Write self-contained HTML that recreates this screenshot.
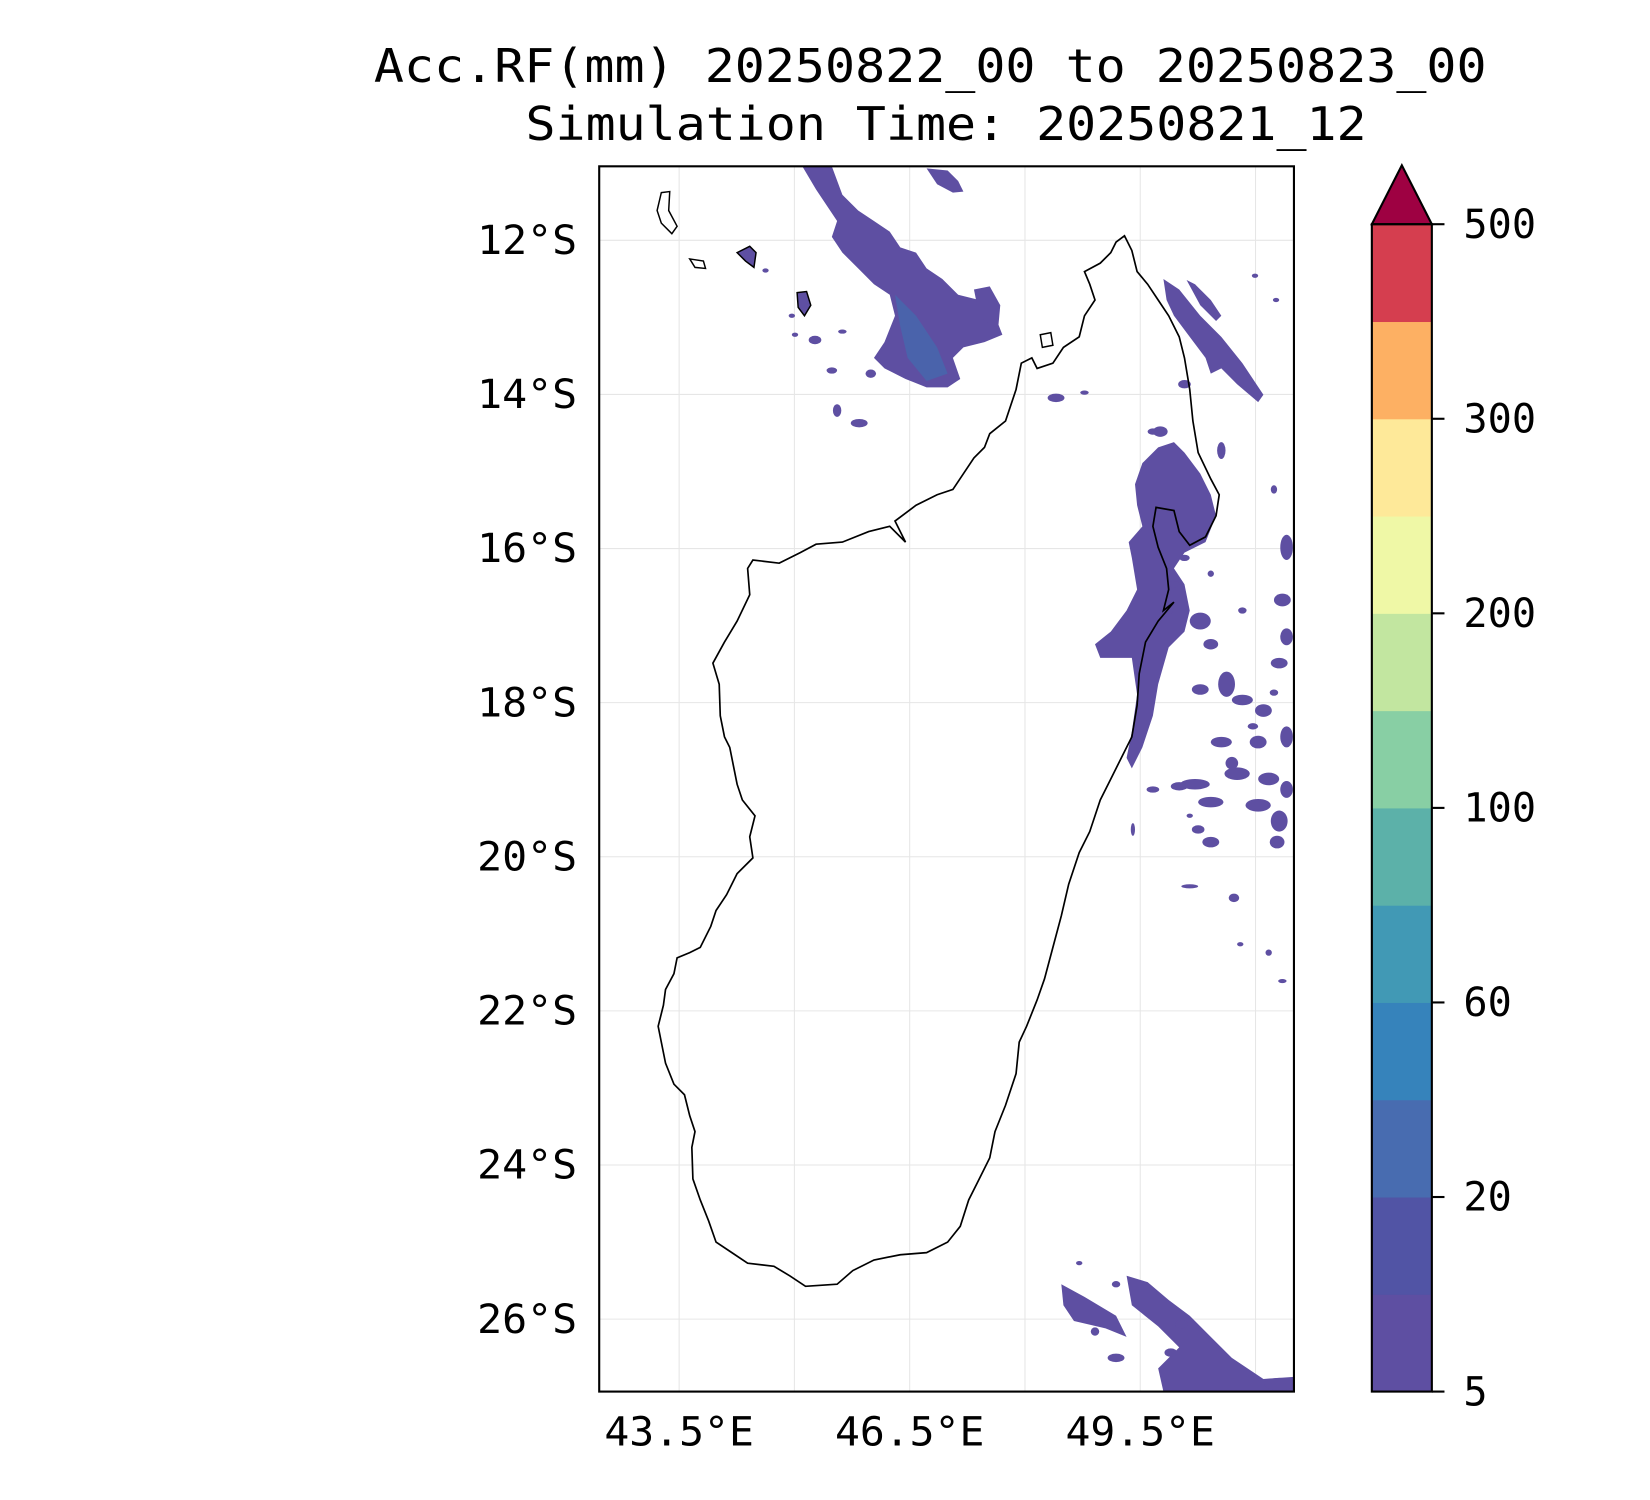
<!DOCTYPE html>
<html><head><meta charset="utf-8"><style>
html,body{margin:0;padding:0;background:#fff;}
svg{display:block;font-family:"DejaVu Sans Mono","Liberation Mono",monospace;}
</style></head><body>
<svg id="fig" width="1650" height="1500" viewBox="0 0 1567 1425" xmlns="http://www.w3.org/2000/svg">
<text x="355" y="78" font-size="44" textLength="1057" lengthAdjust="spacingAndGlyphs">Acc.RF(mm) 20250822_00 to 20250823_00</text>
<text x="499" y="133" font-size="44" textLength="799" lengthAdjust="spacingAndGlyphs">Simulation Time: 20250821_12</text>
<defs><clipPath id="clip"><rect x="569" y="158" width="660" height="1164"/></clipPath></defs>
<g id="grid"></g>
<g clip-path="url(#clip)" fill="#5e4fa2">
<path d="M762,158 L790,158 800,185 815,200 830,210 845,220 855,235 870,240 880,255 895,265 910,280 930,285 945,300 952,318 935,325 915,330 905,340 912,360 900,368 880,368 860,360 840,350 830,340 840,325 850,300 845,280 830,270 815,255 800,240 790,225 795,210 785,195 775,180Z"/>
<path fill="#4a63ab" d="M850,280 L870,300 890,330 900,355 880,362 862,340 855,310Z"/>
<path d="M880,160 L900,162 910,172 915,182 905,183 890,175Z"/>
<path d="M925,275 L940,272 950,290 948,312 935,305 928,290Z"/>
<path d="M1105,265 L1120,275 1140,300 1160,320 1180,345 1200,375 1195,382 1175,365 1160,350 1150,355 1145,340 1130,320 1115,300 1108,285Z"/>
<path d="M1127,266 L1135,270 1150,285 1160,300 1155,305 1140,290Z"/>
<path d="M1085,440 L1100,425 1115,420 1125,430 1140,450 1150,470 1155,490 1145,515 1125,525 1115,540 1125,555 1130,580 1125,600 1110,615 1100,650 1095,680 1085,710 1075,730 1070,720 1075,695 1080,660 1075,625 1060,625 1045,625 1040,612 1055,600 1070,580 1080,560 1075,530 1072,515 1085,500 1080,480 1078,460Z"/>
<path d="M1008,1220 L1030,1232 1060,1250 1070,1270 1050,1262 1020,1255 1010,1240Z"/>
<path d="M1070,1212 L1090,1218 1110,1235 1130,1250 1150,1270 1170,1290 1200,1310 1229,1308 1229,1322 1105,1322 1100,1300 1120,1280 1100,1260 1075,1240Z"/>
<g id="dots"></g>
</g>
<path fill="none" stroke="#000" stroke-width="1.6" d="M1068,224 L1075,238 1080,258 1090,270 1100,285 1110,300 1120,320 1125,340 1130,370 1133,400 1138,430 1150,455 1158,470 1155,490 1145,510 1130,518 1120,505 1115,485 1098,482 1095,500 1100,520 1108,540 1110,560 1105,580 1115,572 1100,590 1088,610 1082,640 1080,670 1075,700 1065,720 1055,740 1045,760 1035,790 1025,810 1015,840 1008,870 1000,900 992,930 985,950 975,975 968,990 965,1020 955,1050 945,1075 940,1100 930,1120 920,1140 912,1165 900,1180 880,1190 855,1192 830,1197 810,1207 795,1220 765,1222 750,1212 735,1203 710,1200 695,1190 680,1180 673,1160 665,1140 658,1120 657,1090 660,1075 655,1060 650,1040 640,1030 632,1010 628,990 625,975 630,955 632,940 640,925 643,910 655,905 665,900 675,880 680,865 690,850 700,830 715,815 712,795 717,775 705,760 700,745 697,730 693,710 688,700 684,680 683,650 677,630 688,610 700,590 712,565 710,540 715,532 740,535 760,525 775,517 800,515 825,505 845,500 860,515 850,495 870,480 890,470 905,465 915,450 925,435 935,425 940,412 955,400 960,385 965,370 970,345 980,340 985,350 1000,345 1010,330 1025,320 1030,300 1040,285 1035,270 1030,258 1045,250 1055,240 1060,230Z"/>
<g fill="none" stroke="#000" stroke-width="1.4">
<path d="M628,183 L636,182 635,200 643,215 638,222 628,212 624,200Z"/>
<path d="M655,246 L668,248 670,255 660,254Z"/>
<path fill="#5e4fa2" d="M700,240 L712,234 718,240 716,254 708,248Z"/>
<path fill="#5e4fa2" d="M757,278 L766,277 770,290 764,300 758,292Z"/>
<path d="M988,318 L998,316 1000,328 990,330Z"/>
</g>
<rect x="569" y="158" width="660" height="1164" fill="none" stroke="#000" stroke-width="2"/>
<g id="axes"></g>
<g id="cbar"></g>
<script>
const levels=[5,10,20,40,60,80,100,150,200,250,300,400,500];
const colors=["#5e4fa2","#5154a5","#486cb0","#3683bb","#4199b5","#5cb1a9","#88cfa4","#c2e6a0","#eff8a6","#fee999","#fdb063","#d53e4f"];
const cbTicks=[5,20,60,100,200,300,500];
const lonTicks=[43.5,46.5,49.5];
const lonGrid=[43.5,45,46.5,48,49.5,51];
const latTicks=[12,14,16,18,20,22,24,26];
const lonMin=42.46,lonMax=51.5,latTop=11.04,latBot=26.94;
const X0=569,X1=1229,Y0=158,Y1=1322;
const NS="http://www.w3.org/2000/svg";
function xs(lon){return X0+(lon-lonMin)/(lonMax-lonMin)*(X1-X0);}
function ys(lat){return Y0+(lat-latTop)/(latBot-latTop)*(Y1-Y0);}
function mk(t,a,p){const e=document.createElementNS(NS,t);for(const k in a)e.setAttribute(k,a[k]);p.appendChild(e);return e;}
const grid=document.getElementById('grid');
lonGrid.forEach(l=>{const e=mk('line',{x1:xs(l),x2:xs(l),y1:Y0,y2:Y1,stroke:'#e6e6e6','stroke-width':1},grid);

});
latTicks.forEach(l=>{const e=mk('line',{x1:X0,x2:X1,y1:ys(l),y2:ys(l),stroke:'#e6e6e6','stroke-width':1},grid);

});
const ax=document.getElementById('axes');
lonTicks.forEach(l=>{const s=l+'°E';const t=mk('text',{x:xs(l)-71,y:1373,'font-size':38,textLength:142,lengthAdjust:'spacingAndGlyphs'},ax);t.textContent=s;

});
latTicks.forEach(l=>{const t=mk('text',{x:453,y:ys(l)+13,'font-size':38,textLength:95,lengthAdjust:'spacingAndGlyphs'},ax);t.textContent=l+'°S';

});
const dots=document.getElementById('dots');
[[1102,410,7,5],[1125,365,6,4],[1160,428,4,8],[1210,465,3,4],[1222,520,6,12],[1218,570,8,6],[1222,605,6,8],[1215,630,8,5],[1140,590,10,8],[1150,612,7,5],[1108,578,6,8],[1140,655,8,5],[1165,650,8,12],[1180,665,10,5],[1200,675,8,6],[1222,700,6,10],[1160,705,10,5],[1195,705,8,6],[1175,735,12,6],[1205,740,10,6],[1135,745,14,5],[1170,725,6,6],[1120,747,8,4],[1150,762,12,5],[1195,765,12,6],[1215,780,8,10],[1150,800,8,5],[1138,788,6,4],[1222,750,6,8],[1095,750,6,3],[1130,842,8,2],[1172,853,5,4],[1205,905,3,3],[1218,932,4,2],[1178,897,3,2],[1213,800,7,6],[1003,378,8,4],[1030,373,4,2],[1115,555,5,3],[1125,530,5,3],[1095,410,5,3],[1150,545,3,3],[1210,658,4,3],[1190,690,5,3],[1130,775,3,2],[1180,580,4,3],[1192,262,3,2],[1212,285,3,2],[816,402,8,4],[795,390,4,6],[827,355,5,4],[790,352,5,3],[774,323,6,4],[800,315,4,2],[752,300,3,2],[755,318,3,2],[727,257,3,2],[1040,1265,4,4],[1060,1290,8,4],[1025,1200,3,2],[1060,1220,4,3],[1122,1258,6,4],[1112,1285,6,4],[1215,1315,14,6],[1076,788,2,6]].forEach(d=>{
const e=mk('ellipse',{cx:d[0],cy:d[1],rx:d[2],ry:d[3]},dots);

});
const cb=document.getElementById('cbar');
const CX=1303,CW=57,CT=213,CB=1322,n=levels.length-1,bh=(CB-CT)/n;
function cy(i){return CB-i*bh;}
colors.forEach((c,i)=>{const r=mk('rect',{x:CX,y:cy(i+1),width:CW,height:bh+0.5,fill:c},cb);

});
const tri=mk('polygon',{points:`${CX},${CT} ${CX+CW/2},${CT-56} ${CX+CW},${CT}`,fill:'#9e0142',stroke:'#000','stroke-width':2},cb);


const fr=mk('rect',{x:CX,y:CT,width:CW,height:CB-CT,fill:'none',stroke:'#000','stroke-width':2},cb);


cbTicks.forEach(v=>{const i=levels.indexOf(v),y=cy(i);
const l=mk('line',{x1:CX+CW,x2:CX+CW+12,y1:y,y2:y,stroke:'#000','stroke-width':2},cb);


const s=String(v);
const t=mk('text',{x:1390,y:y+13,'font-size':38,textLength:23*s.length,lengthAdjust:'spacingAndGlyphs'},cb);t.textContent=s;

});
</script>
</svg>
</body></html>
